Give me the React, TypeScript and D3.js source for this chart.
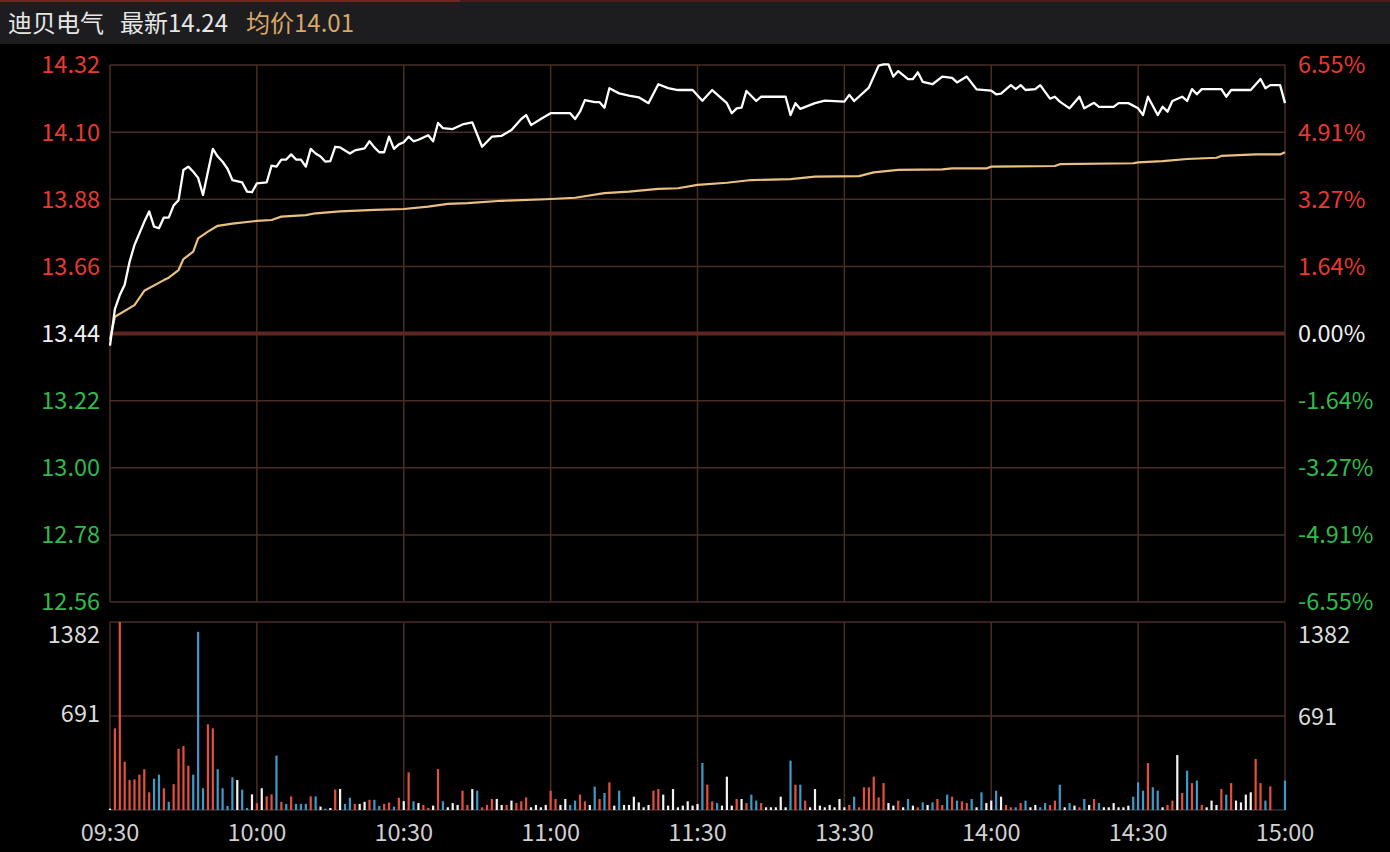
import React from "react";
import * as d3 from "d3";

// ---- data ----
const stockName = "迪贝电气";
const lastLabel = "最新14.24";
const avgLabel = "均价14.01";

const timeTicks = [0, 30, 60, 90, 120, 150, 180, 210, 240];
const timeLabels = ["09:30", "10:00", "10:30", "11:00", "11:30", "13:30", "14:00", "14:30", "15:00"];

const priceTicks = [14.32, 14.1, 13.88, 13.66, 13.44, 13.22, 13.0, 12.78, 12.56];
const pctLabels = ["6.55%", "4.91%", "3.27%", "1.64%", "0.00%", "-1.64%", "-3.27%", "-4.91%", "-6.55%"];
const prevClose = 13.44;

const volTicks = [1382, 691];

// price line vertices (minute index, price)
const priceMin = [
  0, 1, 2, 3, 4, 5, 7, 8, 9, 10, 11, 12, 13, 14, 15, 16, 17, 18, 19, 20, 21, 22, 23, 24, 25, 27, 28, 29, 30, 32,
  33, 34, 35, 36, 37, 38, 39, 40, 41, 42, 43, 44, 45, 46, 47, 48, 49, 50, 52, 53, 54, 55, 56, 57, 58, 59, 60, 61,
  62, 63, 65, 66, 67, 68, 70, 72, 74, 76, 78, 80, 82, 84, 85, 86, 88, 90, 94, 95, 96, 97, 99, 100, 101, 102, 104,
  106, 108, 110, 112, 114, 116, 119, 121, 123, 126, 127, 128, 129, 130, 132, 133, 138, 139, 140, 141, 144, 146,
  150, 151, 152, 155, 157, 158, 159, 160, 161, 163, 164, 165, 166, 168, 170, 172, 173, 175, 177, 180, 181, 182,
  184, 185, 186, 187, 189, 190, 192, 193, 194, 196, 198, 199, 201, 202, 205, 206, 208, 210, 211, 212, 214, 215,
  216, 217, 219, 220, 221, 222, 223, 227, 228, 229, 233, 235, 236, 237, 239, 240,
];
const priceVal = [
  13.4, 13.52, 13.566, 13.6, 13.675, 13.73, 13.806, 13.84, 13.79, 13.785, 13.82, 13.82, 13.86, 13.877, 13.976,
  13.987, 13.97, 13.95, 13.894, 13.97, 14.045, 14.02, 14.003, 13.98, 13.943, 13.935, 13.905, 13.903, 13.932, 13.935,
  13.99, 13.987, 14.01, 14.01, 14.027, 14.01, 14.01, 13.987, 14.045, 14.03, 14.02, 14.003, 14.005, 14.052, 14.05,
  14.04, 14.03, 14.04, 14.047, 14.07, 14.05, 14.034, 14.034, 14.085, 14.045, 14.06, 14.067, 14.085, 14.07, 14.075,
  14.09, 14.07, 14.13, 14.113, 14.11, 14.125, 14.132, 14.052, 14.085, 14.088, 14.107, 14.143, 14.156, 14.123,
  14.143, 14.162, 14.162, 14.143, 14.167, 14.205, 14.198, 14.198, 14.18, 14.244, 14.227, 14.22, 14.214, 14.195,
  14.257, 14.244, 14.238, 14.238, 14.203, 14.238, 14.195, 14.162, 14.178, 14.18, 14.235, 14.202, 14.216, 14.216,
  14.156, 14.195, 14.176, 14.195, 14.203, 14.2, 14.222, 14.202, 14.246, 14.318, 14.322, 14.322, 14.282, 14.3,
  14.274, 14.274, 14.296, 14.265, 14.257, 14.282, 14.278, 14.263, 14.282, 14.24, 14.236, 14.224, 14.226, 14.254,
  14.241, 14.254, 14.238, 14.241, 14.254, 14.21, 14.216, 14.2, 14.178, 14.216, 14.178, 14.196, 14.183, 14.183,
  14.195, 14.195, 14.178, 14.156, 14.216, 14.156, 14.183, 14.167, 14.202, 14.216, 14.202, 14.241, 14.224, 14.241,
  14.241, 14.216, 14.238, 14.238, 14.274, 14.244, 14.254, 14.254, 14.195,
];

// average price vertices
const avgMin = [
  0, 1, 5, 7, 11, 12, 14, 15, 17, 18, 20, 22, 25, 30, 33, 35, 40, 42, 47, 54, 60, 65, 69, 73, 80, 89, 95, 101, 106,
  112, 116, 120, 126, 131, 139, 144, 153, 156, 161, 170, 172, 179, 180, 193, 194, 209, 210, 215, 220, 226, 227, 234,
  239, 240,
];
const avgVal = [
  13.42, 13.495, 13.533, 13.58, 13.615, 13.623, 13.648, 13.684, 13.708, 13.752, 13.774, 13.793, 13.8, 13.809,
  13.812, 13.823, 13.828, 13.834, 13.84, 13.845, 13.848, 13.856, 13.865, 13.867, 13.875, 13.88, 13.885, 13.9, 13.905,
  13.914, 13.916, 13.927, 13.934, 13.943, 13.946, 13.954, 13.956, 13.968, 13.976, 13.978, 13.981, 13.981, 13.987,
  13.989, 13.995, 13.998, 14.001, 14.005, 14.012, 14.016, 14.022, 14.027, 14.027, 14.034,
];

// per-minute volume (240 + 1 bars)
const volumes = [
  10, 600, 1382, 355, 220, 225, 260, 300, 130, 230, 260, 160, 60, 190, 450, 470, 325, 260, 1310, 160,
  630, 600, 300, 160, 30, 240, 220, 150, 15, 115, 50, 160, 100, 115, 400, 60, 45, 100, 45, 45,
  45, 100, 100, 25, 10, 15, 150, 155, 45, 90, 45, 45, 60, 75, 75, 30, 45, 55, 25, 90,
  65, 277, 64, 51, 37, 15, 32, 301, 64, 20, 51, 37, 142, 37, 154, 142, 20, 37, 81, 81,
  37, 37, 69, 51, 64, 93, 20, 37, 20, 37, 142, 81, 37, 81, 37, 69, 113, 64, 37, 172,
  81, 125, 203, 32, 142, 37, 37, 98, 56, 20, 37, 142, 154, 113, 32, 154, 20, 32, 64, 32,
  44, 345, 186, 64, 51, 32, 245, 32, 81, 81, 51, 113, 69, 51, 20, 20, 20, 98, 20, 363,
  186, 186, 69, 20, 154, 32, 20, 37, 20, 81, 20, 37, 98, 20, 167, 167, 245, 93, 198, 51,
  32, 69, 20, 81, 32, 20, 56, 37, 56, 81, 37, 113, 98, 69, 64, 51, 81, 20, 130, 51,
  69, 142, 98, 37, 20, 20, 51, 69, 20, 37, 20, 51, 37, 69, 186, 20, 51, 32, 20, 81,
  37, 81, 51, 20, 20, 51, 20, 20, 32, 98, 203, 142, 345, 167, 142, 20, 37, 69, 404, 125,
  289, 198, 216, 37, 20, 69, 37, 154, 113, 198, 69, 56, 113, 130, 375, 198, 69, 174, 0, 0,
  216,
];
// r = up (red), b = down (blue), w = flat (white)
const volDir =
  "wrrrrrrrrbbrbrrrrbbb" +
  "rrbbbbwbbwrwrrbrbrbb" +
  "brbwbwrwbbrwwrbbrrbr" +
  "wrbwrrwrbwwwrrwbrrrw" +
  "wrwrrrwwwwrrwwbbrrwb" +
  "rbrwbwwwwwwrrwwwwwww" +
  "wbrrbwwwrwrbbrwwwwwb" +
  "rbrwwwwwwwwrbrrrrrrw" +
  "wrwbwrbwbrrbrbrrbwbw" +
  "wbwrrbrbwwbbrrbwbwrb" +
  "wrbwwwwwwbbbrbbwrrwr" +
  "brbrwwwrbrwwwwrrbrww" +
  "b";

// ---- layout ----
const W = 1390;
const H = 852;
const X0 = 110;
const X1 = 1285;
const PT = 65;
const PB = 602;
const VT = 622;
const VB = 810;

const GRID = "#4a2c27";
const RED = "#e8392f";
const GREEN = "#2dbb49";
const FONT = "'Noto Sans CJK SC', 'Noto Sans', sans-serif";
const FS = 23.5;

export default function App() {
  const x = d3.scaleLinear().domain([0, 240]).range([X0, X1]);
  const y = d3.scaleLinear().domain([12.56, 14.32]).range([PB, PT]);
  const yv = d3.scaleLinear().domain([0, 1382]).range([VB, VT]);

  const priceLine = d3
    .line<number>()
    .x((_, i) => x(priceMin[i]))
    .y((d) => y(d))(priceVal) as string;
  const avgLine = d3
    .line<number>()
    .x((_, i) => x(avgMin[i]))
    .y((d) => y(d))(avgVal) as string;

  const barColor = (c: string) => (c === "r" ? "#e5503c" : c === "b" ? "#3d9bcc" : "#f2f2f2");
  const labelColor = (v: number) => (v > prevClose + 1e-6 ? RED : v < prevClose - 1e-6 ? GREEN : "#f0f0f0");

  return (
    <svg
      width={W}
      height={H}
      style={{ position: "absolute", left: 0, top: 0, display: "block", background: "#000" }}
    >
      <rect x={0} y={0} width={W} height={H} fill="#000" />
      {/* header */}
      <rect x={0} y={0} width={W} height={44} fill="#1d1d1f" />
      <rect x={0} y={0} width={W} height={2} fill="#4a1c1c" />
      <rect x={0} y={0} width={460} height={2} fill="#7a2222" />
      <text x={8} y={32} fontFamily={FONT} fontSize={24} fill="#e6e6e6">
        {stockName}
      </text>
      <text x={120} y={32} fontFamily={FONT} fontSize={24} fill="#e6e6e6">
        {lastLabel}
      </text>
      <text x={246} y={32} fontFamily={FONT} fontSize={24} fill="#d9a766">
        {avgLabel}
      </text>

      {/* price grid */}
      {priceTicks.map((p) =>
        p === prevClose ? null : (
          <line key={"h" + p} x1={X0} x2={X1} y1={y(p)} y2={y(p)} stroke={GRID} strokeWidth={1.5} />
        )
      )}
      {timeTicks.map((t) => (
        <line key={"v" + t} x1={x(t)} x2={x(t)} y1={PT} y2={PB} stroke={GRID} strokeWidth={1.5} />
      ))}
      <line x1={X0} x2={X1} y1={y(prevClose)} y2={y(prevClose)} stroke="#5e2622" strokeWidth={4} />

      {/* volume grid */}
      <line x1={X0} x2={X1} y1={VT} y2={VT} stroke={GRID} strokeWidth={1.5} />
      <line x1={X0} x2={X1} y1={yv(691)} y2={yv(691)} stroke={GRID} strokeWidth={1.5} />
      <line x1={X0} x2={X1} y1={VB} y2={VB} stroke="#3a3030" strokeWidth={1.5} />
      {timeTicks.map((t) => (
        <line key={"vv" + t} x1={x(t)} x2={x(t)} y1={VT} y2={VB} stroke={GRID} strokeWidth={1.5} />
      ))}

      {/* volume bars */}
      {volumes.map((v, i) =>
        v > 0 ? (
          <rect
            key={"b" + i}
            x={x(i) - 1.1}
            y={yv(v)}
            width={2.2}
            height={VB - yv(v)}
            fill={barColor(volDir[i])}
          />
        ) : null
      )}

      {/* lines */}
      <path d={avgLine} fill="none" stroke="#e9c07f" strokeWidth={2.2} strokeLinejoin="round" />
      <path d={priceLine} fill="none" stroke="#ffffff" strokeWidth={2.3} strokeLinejoin="round" />

      {/* price labels */}
      {priceTicks.map((p) => (
        <text
          key={"lp" + p}
          x={100}
          y={y(p)}
          dy="0.36em"
          textAnchor="end"
          fontFamily={FONT}
          fontSize={FS}
          fill={labelColor(p)}
        >
          {p.toFixed(2)}
        </text>
      ))}
      {priceTicks.map((p, i) => (
        <text
          key={"rp" + p}
          x={1298}
          y={y(p)}
          dy="0.36em"
          textAnchor="start"
          fontFamily={FONT}
          fontSize={FS}
          fill={labelColor(p)}
        >
          {pctLabels[i]}
        </text>
      ))}

      {/* volume labels */}
      {volTicks.map((v) => (
        <React.Fragment key={"vl" + v}>
          <text
            x={100}
            y={v === 1382 ? yv(v) + 13 : yv(v) - 2}
            dy="0.36em"
            textAnchor="end"
            fontFamily={FONT}
            fontSize={FS}
            fill="#dcdcdc"
          >
            {v}
          </text>
          <text
            x={1298}
            y={v === 1382 ? yv(v) + 13 : yv(v) + 1}
            dy="0.36em"
            textAnchor="start"
            fontFamily={FONT}
            fontSize={FS}
            fill="#dcdcdc"
          >
            {v}
          </text>
        </React.Fragment>
      ))}

      {/* time labels */}
      {timeTicks.map((t, i) => (
        <text
          key={"t" + t}
          x={x(t)}
          y={833}
          dy="0.36em"
          textAnchor="middle"
          fontFamily={FONT}
          fontSize={FS}
          fill="#d0d0d0"
        >
          {timeLabels[i]}
        </text>
      ))}
    </svg>
  );
}
